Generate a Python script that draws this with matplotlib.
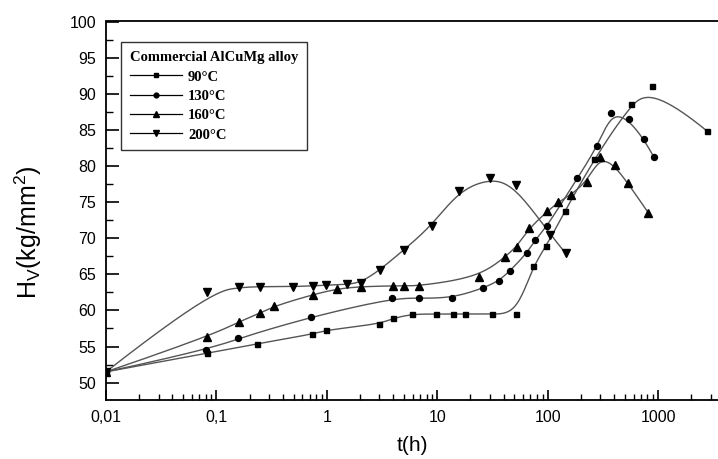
#*********** HARDNESS vs AGEING TIME - AlCuMg alloy ***********

import numpy as np
import matplotlib
matplotlib.use('Agg')
import matplotlib.pyplot as plt
from matplotlib.ticker import FixedLocator, LogLocator, MultipleLocator, NullFormatter

#data (t in hours, Hv in kg/mm2)
t90 = [0.01, 0.083, 0.235, 0.74, 0.99, 2.97, 3.98, 5.88, 9.84, 13.8, 17.7, 31.6, 52.1,
       73.8, 97.5, 144, 263, 566, 877, 2800]
h90 = [51.5, 54.1, 55.4, 56.7, 57.3, 58.1, 58.9, 59.5, 59.5, 59.5, 59.5, 59.5, 59.5,
       66.2, 68.9, 73.8, 80.9, 88.6, 91.1, 84.8]

t130 = [0.01, 0.081, 0.158, 0.715, 3.93, 6.84, 13.7, 26.2, 36.3, 45.7, 64.7, 76.4, 99.6,
        186, 283, 378, 546, 747, 920]
h130 = [51.5, 54.5, 56.15, 59.1, 61.7, 61.7, 61.7, 63.1, 64.1, 65.5, 67.9, 69.7, 71.7,
        78.3, 82.7, 87.4, 86.5, 83.7, 81.2]

t160 = [0.01, 0.083, 0.16, 0.248, 0.333, 0.75, 1.25, 2.03, 3.98, 5.0, 6.9, 23.9, 40.9,
        52.5, 68, 99.6, 125, 162, 226, 296, 405, 535, 818]
h160 = [51.5, 56.3, 58.45, 59.6, 60.6, 62.2, 63.0, 63.3, 63.4, 63.4, 63.4, 64.6, 67.4,
        68.8, 71.4, 73.7, 75.0, 76.0, 77.8, 81.2, 80.15, 77.6, 73.5]

t200 = [0.01, 0.083, 0.16, 0.248, 0.498, 0.75, 0.99, 1.51, 2.03, 3.03, 5.0, 8.9, 15.7,
        30, 52, 105, 146]
h200 = [51.5, 62.5, 63.2, 63.3, 63.3, 63.4, 63.5, 63.6, 63.85, 65.6, 68.4, 71.7, 76.6,
        78.3, 77.4, 70.5, 67.9]

labels = ['90°C', '130°C', '160°C', '200°C']
xticks = [0.01, 0.1, 1, 10, 100, 1000]
xticklabels = ['0,01', '0,1', '1', '10', '100', '1000']


#B-spline through control points (like Origin's B-spline line), in log t
def bspline(xs, ys, k=3, n=400):
    P = np.column_stack([np.log10(xs), ys])
    m = len(P)
    k = min(k, m - 1)
    knots = np.concatenate([np.zeros(k), np.linspace(0, 1, m - k + 1), np.ones(k)])
    t = np.linspace(0, 1, n)
    N = np.zeros((n, len(knots) - 1))
    for i in range(len(knots) - 1):
        N[:, i] = (knots[i] <= t) & (t < knots[i + 1])
    N[-1, m - 1] = 1
    for d in range(1, k + 1):
        Nn = np.zeros((n, len(knots) - 1 - d))
        for i in range(len(knots) - 1 - d):
            a = knots[i + d] - knots[i]
            b = knots[i + d + 1] - knots[i + 1]
            if a > 0:
                Nn[:, i] += (t - knots[i]) / a * N[:, i]
            if b > 0:
                Nn[:, i] += (knots[i + d + 1] - t) / b * N[:, i + 1]
        N = Nn
    C = N @ P
    return 10 ** C[:, 0], C[:, 1]


plt.rcParams['font.family'] = ['Liberation Sans', 'DejaVu Sans']

fig = plt.figure(figsize=(7.18, 4.59), dpi=100)
ax = fig.add_axes([106 / 718, 59 / 459, 1 - 106 / 718, 378.5 / 459])

series = [(t90, h90, 's', 3.6), (t130, h130, 'o', 4.3), (t160, h160, '^', 5.5), (t200, h200, 'v', 5.5)]
for (t, h, mk, ms), lab in zip(series, labels):
    cx, cy = bspline(t, h)
    ax.plot(cx, cy, color='#555555', lw=1.0, zorder=2)
    ax.plot(t, h, ls='none', marker=mk, ms=ms, color='black', zorder=3)
    #dummy handle for legend: line - marker - line
    ax.plot([], [], color='black', lw=0.9, marker=mk, ms=ms * 0.8, label=lab)

ax.set_xscale('log')
ax.set_xlim(0.01, 10 ** (-2 + 612 / 110.4))
ax.set_ylim(47.6, 100)

ax.xaxis.set_major_locator(FixedLocator(xticks))
ax.set_xticklabels(xticklabels)
ax.xaxis.set_minor_locator(LogLocator(base=10, subs=np.arange(2, 10), numticks=20))
ax.xaxis.set_minor_formatter(NullFormatter())
ax.yaxis.set_major_locator(MultipleLocator(5))
ax.yaxis.set_minor_locator(MultipleLocator(2.5))

ax.tick_params(which='major', direction='in', length=7, width=1.2, labelsize=11.5, pad=7)
ax.tick_params(which='minor', direction='in', length=4, width=1.0)
ax.tick_params(axis='y', which='major', length=9)
ax.tick_params(axis='y', which='minor', length=5)

for s in ['left', 'bottom', 'top']:
    ax.spines[s].set_linewidth(1.3)
ax.spines['right'].set_visible(False)

ax.set_xlabel('t(h)', fontsize=15, labelpad=8)
ax.set_ylabel('H$_\\mathregular{V}$(kg/mm$^\\mathregular{2}$)', fontsize=18)
ax.yaxis.set_label_coords(-0.101, 0.443)

leg = ax.legend(loc='upper left', bbox_to_anchor=(15 / 612, 1 - 21 / 378.5), borderaxespad=0,
                title='Commercial AlCuMg alloy', handlelength=3.6, handletextpad=0.4,
                labelspacing=0.42, borderpad=0.6, frameon=True, fancybox=False,
                prop={'family': 'Liberation Serif', 'weight': 'bold', 'size': 10.5})
leg.get_title().set_fontfamily('Liberation Serif')
leg.get_title().set_fontweight('bold')
leg.get_title().set_fontsize(10.5)
leg._legend_box.align = 'left'
leg.get_frame().set_edgecolor('black')
leg.get_frame().set_linewidth(1.0)

plt.savefig('out.png', dpi=100)
